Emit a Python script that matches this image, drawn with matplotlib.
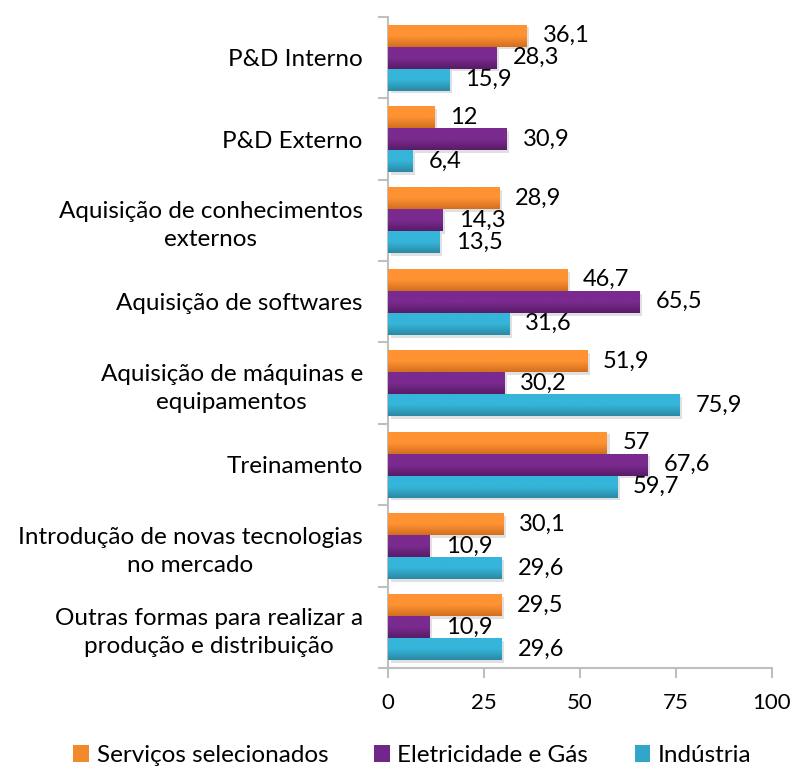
import numpy as np
import matplotlib
matplotlib.use("Agg")
import matplotlib.pyplot as plt
import matplotlib.patheffects as pe
from matplotlib.colors import LinearSegmentedColormap
from matplotlib.patches import Patch

plt.rcParams['font.family'] = ['Lato', 'DejaVu Sans']

categories = [
    "P&D Interno",
    "P&D Externo",
    "Aquisição de conhecimentos\nexternos",
    "Aquisição de softwares",
    "Aquisição de máquinas e\nequipamentos",
    "Treinamento",
    "Introdução de novas tecnologias\nno mercado",
    "Outras formas para realizar a\nprodução e distribuição",
]
series_names = ["Serviços selecionados", "Eletricidade e Gás", "Indústria"]
servicos = [36.1, 12, 28.9, 46.7, 51.9, 57, 30.1, 29.5]
eletricidade = [28.3, 30.9, 14.3, 65.5, 30.2, 67.6, 10.9, 10.9]
industria = [15.9, 6.4, 13.5, 31.6, 75.9, 59.7, 29.6, 29.6]
xticks = [0, 25, 50, 75, 100]

# top colour, bottom colour, legend colour
colors = [
    ("#FF9232", "#D26F1F", "#F28A2C"),
    ("#7B2A8F", "#581C68", "#70278A"),
    ("#35B5D9", "#2A88A4", "#31A6C8"),
]

fig = plt.figure(figsize=(7.93, 7.71), dpi=100)
ax = fig.add_axes([0.489, 0.1336, 0.4845, 0.8444])

n = len(categories)
y = np.arange(n)
h = 0.27
values = [servicos, eletricidade, industria]
offsets = [-h, 0, h]

for vals, off, (ctop, cbot, cmid) in zip(values, offsets, colors):
    bars = ax.barh(y + off, vals, height=h, color=cmid, zorder=2,
                   path_effects=[pe.SimplePatchShadow(offset=(2, -2), shadow_rgbFace="#000000", alpha=0.12),
                                 pe.Normal()])
    cmap = LinearSegmentedColormap.from_list("g", [ctop, ctop, cbot])
    for b, v in zip(bars, vals):
        x0, y0, w, hh = b.get_x(), b.get_y(), b.get_width(), b.get_height()
        grad = np.linspace(0, 1, 50).reshape(-1, 1)
        ax.imshow(grad, cmap=cmap, aspect="auto", extent=(x0, x0 + w, y0 + hh, y0),
                  zorder=3, interpolation="bilinear")
        ax.annotate(f"{v:g}".replace(".", ","), xy=(v, y0 + hh / 2), xytext=(11.5, 0),
                    textcoords="offset points", ha="left", va="center",
                    fontsize=17, color="black", zorder=5)

ax.set_xlim(0, 100)
ax.set_ylim(n - 0.5, -0.5)
ax.set_xticks(xticks)
ax.set_xticklabels([str(t) for t in xticks], fontsize=16)
ax.set_yticks(y)
ax.set_yticklabels(categories, fontsize=17.5, linespacing=1.4)
for lab in ax.get_yticklabels():
    lab.set_multialignment("center")
ax.set_yticks(np.arange(n + 1) - 0.5, minor=True)
ax.tick_params(axis="y", which="major", length=0, pad=18)
ax.tick_params(axis="y", which="minor", length=7, color="#BFBFBF", width=1.5, direction="out")
ax.tick_params(axis="x", which="major", length=7, color="#BFBFBF", width=1.5, pad=11)

for s in ["top", "right"]:
    ax.spines[s].set_visible(False)
for s in ["left", "bottom"]:
    ax.spines[s].set_color("#BFBFBF")
    ax.spines[s].set_linewidth(1.5)

handles = [Patch(facecolor=c[2], edgecolor="none") for c in colors]
fig.legend(handles, series_names, loc="lower center", bbox_to_anchor=(0.52, -0.022), ncol=3,
           frameon=False, fontsize=17.5, handlelength=0.65, handleheight=0.65,
           handletextpad=0.3, columnspacing=1.9)

fig.savefig("out.png", dpi=100)
